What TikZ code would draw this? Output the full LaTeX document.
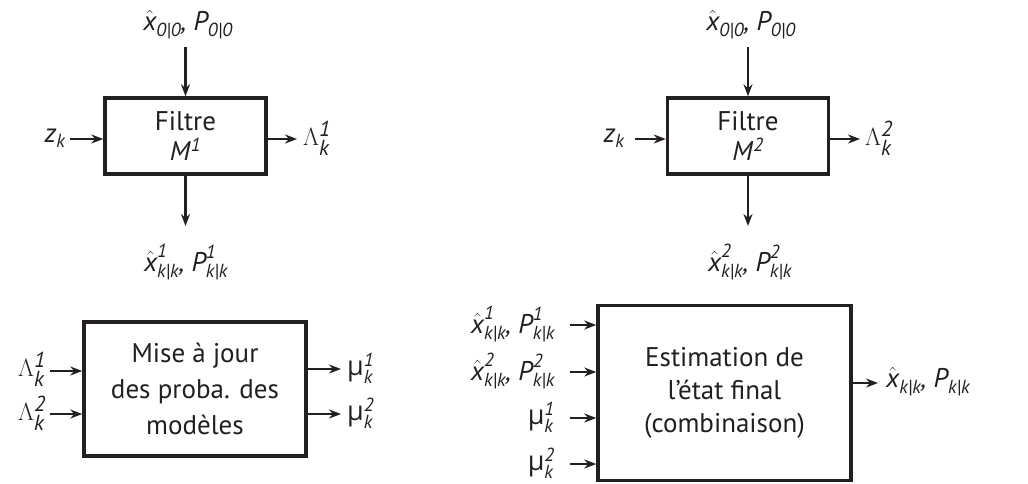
\documentclass[tikz,border=0pt]{standalone}
\usepackage{amsmath}
\usepackage{fontspec}
\setmainfont{PT Sans}
\newfontfamily\gk{Open Sans}
\usetikzlibrary{arrows.meta}
\definecolor{ink}{RGB}{35,31,32}
\newcommand\iv[1]{\textit{#1}}
\newcommand\xh[2]{$\hat{\iv{x}}^{\iv{#1}}_{\iv{#2}}$}
\newcommand\Pm[2]{$\iv{P}^{\iv{#1}}_{\iv{#2}}$}
\newcommand\mup[1]{$\text{\gk μ}^{\iv{#1}}_{\iv{k}}$}
\newcommand\Lam[1]{{\fontsize{31}{33}\selectfont$\Lambda^{\iv{#1}}_{\iv{k}}$}}
\begin{document}
\begin{tikzpicture}[x=1pt,y=-1pt,
  font=\fontsize{27}{33}\selectfont, color=ink,
  blk/.style={draw, line width=3.5pt, inner sep=0pt, align=center},
  arr/.style={-{Stealth[length=12pt,width=9pt]}, line width=2.2pt},
  lab/.style={inner sep=0pt}]
\useasboundingbox (0,0) rectangle (1028,483);
% ---------- Filter 1 ----------
\node[blk, minimum width=161pt, minimum height=76pt] (f1) at (185.5,136) {Filtre\\[-3pt]\iv{M}$^{\iv{1}}$};
\node[lab] (t1) at (188,25) {\xh{}{0|0}\iv{,} \Pm{}{0|0}};
\coordinate (t1s) at (185.5,47);
\draw[arr] (t1s) -- (f1.north);
\node[lab] (z1) at (55,138) {$\iv{z}_{\iv{k}}$};
\coordinate (z1e) at (70,139);
\draw[arr] (z1e) -- (z1e -| f1.west);
\coordinate (l1s) at (f1.east |- 0,139);
\coordinate (l1e) at (297,139);
\draw[arr] (l1s) -- (l1e);
\node[lab, anchor=west] (L1) at (303,138) {\Lam{1}};
\coordinate (b1) at (185.5,226);
\draw[arr] (f1.south) -- (b1);
\node[lab] (o1) at (186,262) {\xh{1}{k|k}\iv{,} \Pm{1}{k|k}};
% ---------- Filter 2 ----------
\node[blk, minimum width=161pt, minimum height=76pt] (f2) at (748,136) {Filtre\\[-3pt]\iv{M}$^{\iv{2}}$};
\node[lab] (t2) at (751,25) {\xh{}{0|0}\iv{,} \Pm{}{0|0}};
\coordinate (t2s) at (748,47);
\draw[arr] (t2s) -- (f2.north);
\node[lab] (z2) at (614,138) {$\iv{z}_{\iv{k}}$};
\coordinate (z2e) at (635,139);
\draw[arr] (z2e) -- (z2e -| f2.west);
\coordinate (l2s) at (f2.east |- 0,139);
\coordinate (l2e) at (860,139);
\draw[arr] (l2s) -- (l2e);
\node[lab, anchor=west] (L2) at (865,138) {\Lam{2}};
\coordinate (b2) at (748,226);
\draw[arr] (f2.south) -- (b2);
\node[lab] (o2) at (750,262) {\xh{2}{k|k}\iv{,} \Pm{2}{k|k}};
% ---------- Update probabilities ----------
\node[blk, minimum width=222pt, minimum height=134pt] (mp) at (195,389) {Mise à jour\\[3pt]des proba. des\\[3pt]modèles};
\node[lab, anchor=east] (la1) at (46,369) {\Lam{1}};
\node[lab, anchor=east] (la2) at (46,413) {\Lam{2}};
\coordinate (a1) at (50,371);
\coordinate (a2) at (50,414);
\draw[arr] (a1) -- (a1 -| mp.west);
\draw[arr] (a2) -- (a2 -| mp.west);
\coordinate (m1) at (341,369);
\coordinate (m2) at (341,414);
\draw[arr] (m1 -| mp.east) -- (m1);
\draw[arr] (m2 -| mp.east) -- (m2);
\node[lab, anchor=west] (mu1) at (347,368) {\mup{1}};
\node[lab, anchor=west] (mu2) at (347,413) {\mup{2}};
% ---------- Final estimation ----------
\node[blk, minimum width=253pt, minimum height=175pt] (es) at (724.5,393) {Estimation de\\l’état final\\(combinaison)};
\coordinate (e1) at (570,325);
\coordinate (e2) at (570,372);
\coordinate (e3) at (570,418);
\coordinate (e4) at (570,464);
\foreach \c in {e1,e2,e3,e4} \draw[arr] (\c) -- (\c -| es.west);
\node[lab, anchor=east] (ie1) at (555,324) {\xh{1}{k|k}\iv{,} \Pm{1}{k|k}};
\node[lab, anchor=east] (ie2) at (555,371) {\xh{2}{k|k}\iv{,} \Pm{2}{k|k}};
\node[lab, anchor=east] (ie3) at (555,417) {\mup{1}};
\node[lab, anchor=east] (ie4) at (555,463) {\mup{2}};
\coordinate (eo) at (878,383);
\draw[arr] (eo -| es.east) -- (eo);
\node[lab, anchor=west] (out) at (886,382) {\xh{}{k|k}\iv{,} \Pm{}{k|k}};
\end{tikzpicture}
\end{document}
